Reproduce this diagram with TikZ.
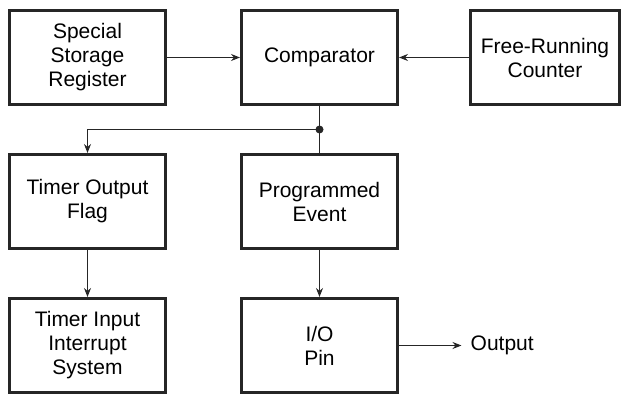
\documentclass[tikz,border=0pt]{standalone}
\usepackage{fontspec}
\setmainfont{Liberation Sans}
\usetikzlibrary{arrows.meta,positioning,calc}

\begin{document}
\begin{tikzpicture}[
  font=\fontsize{21}{24}\selectfont,
  box/.style={draw=black!85, line width=3pt, align=center, inner sep=2pt, minimum width=156pt, minimum height=94pt},
  arr/.style={-{Stealth[length=9pt,width=7pt]}, line width=1.4pt, draw=black!85},
  wire/.style={line width=1.4pt, draw=black!85}
]
\useasboundingbox (0,0) rectangle (622pt,-395pt);
\node[box] (ssr) at (87.5pt,-57.5pt) {Special\\Storage\\Register};
\node[box, right=73pt of ssr] (cmp) {Comparator};
\node[box, minimum width=149pt, right=70pt of cmp] (frc) {Free-Running\\Counter};
\node[box, below=47pt of ssr] (tof) {Timer Output\\Flag};
\node[box, below=47pt of cmp] (evt) {Programmed\\Event};
\node[box, below=47pt of tof] (tis) {Timer Input\\Interrupt\\System};
\node[box, below=47pt of evt] (pin) {I/O\\Pin};
\node[inner xsep=9pt, inner ysep=2pt, right=62.5pt of pin] (out) {Output};
\coordinate (jn) at ($(cmp.south)!0.5!(evt.north)$);
\draw[arr] (ssr) -- (cmp);
\draw[arr] (frc) -- (cmp);
\draw[wire] (cmp) -- (evt);
\fill[black!85] (jn) circle (4pt);
\draw[arr] (jn) -| (tof);
\draw[arr] (tof) -- (tis);
\draw[arr] (evt) -- (pin);
\draw[arr] (pin) -- (out);
\end{tikzpicture}
\end{document}
